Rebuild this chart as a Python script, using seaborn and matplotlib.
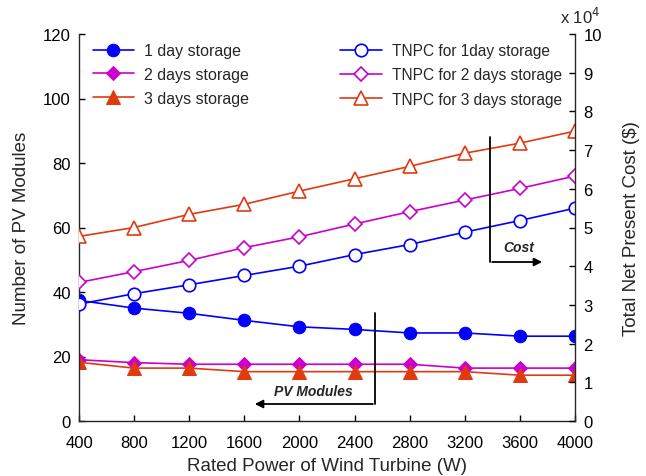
import matplotlib
matplotlib.use("Agg")
import matplotlib.pyplot as plt
import seaborn as sns
import pandas as pd

power = [400, 800, 1200, 1600, 2000, 2400, 2800, 3200, 3600, 4000]
pv_1day = [37.4, 35.0, 33.4, 31.2, 29.2, 28.4, 27.3, 27.3, 26.3, 26.3]
pv_2day = [19.0, 18.1, 17.6, 17.6, 17.6, 17.6, 17.6, 16.4, 16.4, 16.4]
pv_3day = [18.2, 16.4, 16.4, 15.3, 15.3, 15.3, 15.3, 15.3, 14.2, 14.2]
tnpc_1day = [3.02, 3.29, 3.52, 3.76, 4.00, 4.30, 4.56, 4.88, 5.18, 5.50]
tnpc_2day = [3.58, 3.86, 4.15, 4.48, 4.76, 5.09, 5.41, 5.71, 6.01, 6.33]
tnpc_3day = [4.77, 5.00, 5.34, 5.60, 5.94, 6.26, 6.58, 6.92, 7.18, 7.49]

pv_labels = ["1 day storage", "2 days storage", "3 days storage"]
tnpc_labels = ["TNPC for 1day storage", "TNPC for 2 days storage", "TNPC for 3 days storage"]

sns.set_style("ticks")
plt.rcParams['font.family'] = ['Liberation Sans', 'DejaVu Sans']
plt.rcParams['xtick.direction'] = 'in'
plt.rcParams['ytick.direction'] = 'in'

blue = "#0000FF"
mag = "#CC00CC"
red = "#E03A10"
colors = [blue, mag, red]
markers = ["o", "D", "^"]
msizes = [9, 7, 9.5]

fig = plt.figure(figsize=(6.46, 4.77), dpi=100)
ax = fig.add_axes([79/646, 1-422/477, (575-79)/646, (422-35)/477])
ax2 = ax.twinx()

pv_series = [pv_1day, pv_2day, pv_3day]
tn_series = [tnpc_1day, tnpc_2day, tnpc_3day]

h1 = []
for vals, lab, c, m, ms in zip(pv_series, pv_labels, colors, markers, msizes):
    df = pd.DataFrame({"x": power, "y": vals})
    sns.lineplot(data=df, x="x", y="y", ax=ax, color=c, marker=m, markersize=ms,
                 markeredgecolor=c, markerfacecolor=c, linewidth=1.2, label=lab, legend=False)
    h1.append(ax.lines[-1])

h2 = []
for vals, lab, c, m, ms in zip(tn_series, tnpc_labels, colors, markers, msizes):
    df = pd.DataFrame({"x": power, "y": vals})
    sns.lineplot(data=df, x="x", y="y", ax=ax2, color=c, marker=m, markersize=ms,
                 markeredgecolor=c, markerfacecolor="white", markeredgewidth=1.2,
                 linewidth=1.2, label=lab, legend=False)
    h2.append(ax2.lines[-1])

ax.set_xlim(400, 4000)
ax.set_ylim(0, 120)
ax.set_xticks(power)
ax.set_yticks(range(0, 121, 20))
ax2.set_ylim(0, 10)
ax2.set_yticks(range(0, 11))

ax.set_xlabel("Rated Power of Wind Turbine (W)", fontsize=13.5, labelpad=5)
ax.set_ylabel("Number of PV Modules", fontsize=13.5, labelpad=9)
ax2.set_ylabel("Total Net Present Cost ($)", fontsize=13.5, labelpad=15)
ax.tick_params(axis="x", labelsize=12, length=4, width=1, colors="black", pad=10)
ax.tick_params(axis="y", labelsize=12, length=4, width=1, colors="black", pad=6)
ax2.tick_params(labelsize=12, length=4, width=1, colors="black", pad=6)

for a in (ax, ax2):
    a.spines["top"].set_visible(False)
    a.spines["left"].set_linewidth(1)
    a.spines["right"].set_linewidth(1)
    a.spines["bottom"].set_linewidth(1)
ax.spines["right"].set_visible(False)
ax2.spines["left"].set_visible(False)
ax2.spines["bottom"].set_visible(False)

fig.text(580/646, 1-17/477, r"x 10$^{4}$", ha="center", va="center", fontsize=12)

ax.legend(handles=h1, labels=pv_labels, loc="upper left", bbox_to_anchor=(0.005, 1.005),
          frameon=False, fontsize=11.5, handlelength=2.6, labelspacing=0.55,
          borderaxespad=0.3, handletextpad=0.6)
ax2.legend(handles=h2, labels=tnpc_labels, loc="upper left", bbox_to_anchor=(0.505, 1.005),
           frameon=False, fontsize=11.2, handlelength=2.7, labelspacing=0.6,
           borderaxespad=0.3, handletextpad=0.6)

# annotations (in axis-fraction coordinates)
def fx(px):
    return (px - 79) / (575 - 79)
def fy(py):
    return (422 - py) / (422 - 35)

ax2.plot([fx(490), fx(490)], [fy(138), fy(263)], color="black", lw=1.3, transform=ax2.transAxes)
ax2.annotate("", xy=(fx(545), fy(263)), xytext=(fx(489.4), fy(263)),
             xycoords="axes fraction", textcoords="axes fraction",
             arrowprops=dict(arrowstyle="-|>", color="black", lw=1.3, mutation_scale=12))
ax2.text(fx(519), fy(248), "Cost", transform=ax2.transAxes, ha="center", va="center",
         fontsize=10, fontweight="bold", fontstyle="italic")

ax2.plot([fx(375), fx(375)], [fy(314), fy(405)], color="black", lw=1.3, transform=ax2.transAxes)
ax2.annotate("", xy=(fx(252), fy(405)), xytext=(fx(375.6), fy(405)),
             xycoords="axes fraction", textcoords="axes fraction",
             arrowprops=dict(arrowstyle="-|>", color="black", lw=1.3, mutation_scale=12))
ax2.text(fx(313), fy(392), "PV Modules", transform=ax2.transAxes, ha="center", va="center",
         fontsize=10, fontweight="bold", fontstyle="italic")

fig.savefig("out.png", dpi=100)
